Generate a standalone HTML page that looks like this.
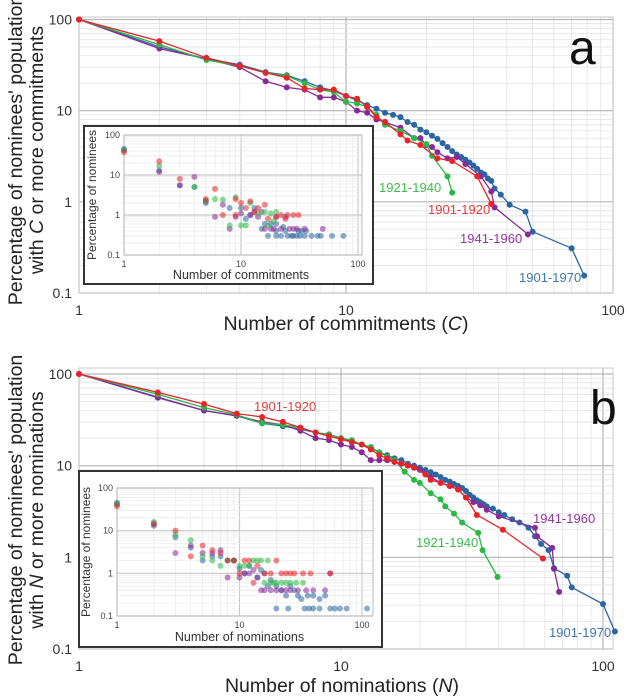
<!DOCTYPE html>
<html><head><meta charset="utf-8"><style>
html,body{margin:0;padding:0;background:#fff;}
svg{display:block;font-family:"Liberation Sans",sans-serif;}
</style></head><body>
<svg id="fig" width="627" height="698" viewBox="0 0 627 698" xmlns="http://www.w3.org/2000/svg"></svg>
<script>
// ---- Panel a data (commitments) ----
const aBlueX=[1,2,3,4,5,6,7,8,9,10,11,12,13,14,15,16,17,18,19,20,21,22,23,24,25,26,27,28,29,30,31,32,33,34,35,36,38,41,47,50,70,78];
const aBlueY=[100,50,37,32,26.5,24.5,21,18,16.5,14.5,13,11.5,10.5,9.5,9,8.5,7.5,7,6.2,5.8,5.3,4.9,4.4,4.0,3.6,3.3,3.1,2.9,2.7,2.5,2.3,2.1,2.0,1.8,1.7,1.4,1.2,0.93,0.78,0.47,0.31,0.155];
const aRedX=[1,2,3,4,5,6,7,8,9,10,11,12,13,14,16,17,19,22,25,31,35];
const aRedY=[100,58,38,31,26,23,17.5,17,17,14.5,13.5,11,8.5,7.5,5.5,4.7,4.2,3.0,2.8,1.9,0.95];
const aGreenX=[1,2,3,4,5,6,7,8,9,10,11,12,13,14,16,18,20,21,24,25];
const aGreenY=[100,53,36,31,26,24,20,17,16,12.5,12,11,9,7,6,5,4.3,3.2,1.9,1.26];
const aPurpleX=[1,2,3,4,5,6,7,8,9,10,11,12,13,14,16,18,19,20,21,22,24,26,28,32,35,36,48];
const aPurpleY=[100,48,37,30,21,18,17,14,14,12.5,10,9.5,8,7.5,6.5,5,5,4.2,4,3.5,3,3.1,2.6,1.9,1.3,0.87,0.44];
// ---- Panel b data (nominations) ----
const bBlueX=[1,2,3,4,5,6,7,8,9,10,11,12,13,14,15,16,17,18,19,20,21,22,23,24,25,26,27,28,29,30,31,32,33,34,35,36,38,40,42,45,48,52,55,58,62,65,73,76,100,111];
const bBlueY=[100,56,40,35,29,27,25,23,21,19.5,18.5,17,15.5,14,13,12,11.5,10.5,10,9.5,9,8.5,8,7.5,7,6.7,6.3,6,5.7,5.3,4.8,4.5,4.2,4,3.8,3.6,3.4,3.1,2.9,2.6,2.4,2.1,1.7,1.4,1.2,0.76,0.63,0.47,0.31,0.155];
const bRedX=[1,2,3,4,5,6,7,8,9,10,11,12,13,14,15,16,17,18,19,21,22,24,26,28,30,33,41.5,59];
const bRedY=[100,63,47,37,34,30,26,23,21,19.5,18,17,15,13,12,11,10.5,10,9.5,8,7,6.5,6,5.5,4.5,2.9,2.0,0.97];
const bGreenX=[1,2,3,4,5,6,7,8,9,10,11,12,13,14,15,16,17.5,19,20,22,24,25,27,29,33.4,34.7,39.6];
const bGreenY=[100,60,43,36,29,28,26,23,22,20,19,17,16,14,12.5,11.5,8.6,7,6.5,5,4.3,3.6,3,2.4,1.85,1.2,0.61];
const bPurpleX=[1,2,3,4,5,6,7,8,9,10,11,12,13,14,15,16,17,18,20,22,24,26,28,30,32,34,36,40,55,56,64,65,68];
const bPurpleY=[100,55,40,35,30,28,24,20,19,17,16,14,11.5,11.5,11.5,11,10.5,10,9,7.5,6.5,6,5.5,4.5,4,3.7,3.3,2.8,2.1,1.7,1.27,0.75,0.42];
// ---- Inset a scatter ----
const iaBlue=[[1,45],[2,13],[3,5.5],[4,5],[5,2],[8,1.5],[10,1.5],[11,0.8],[12,1],[13,1.5],[15,0.45],[16,0.6],[18,0.6],[20,0.6],[17,0.3],[20,0.3],[22,0.3],[23,0.5],[25,0.3],[27,0.3],[28,0.3],[30,0.3],[32,0.3],[33,0.4],[35,0.3],[40,0.3],[45,0.3],[48,0.3],[60,0.3],[75,0.3],[20,0.4],[24,0.4],[31,0.4],[36,0.4]];
const iaRed=[[1,37],[2,22],[3,8],[5,2.5],[6,4.5],[7,1],[9,1],[10,2],[11,1.5],[12,2.2],[14,1.5],[16,1.8],[17,0.8],[20,0.9],[22,1],[24,0.8],[25,1],[28,1],[31,1],[13,1.2],[9,2.5]];
const iaGreen=[[1,42],[2,17],[4,5],[5,2.3],[6,2.5],[7,2.4],[8,0.55],[9,2.8],[10,0.55],[12,2.0],[14,1.1],[16,1.2],[17,0.55],[18,1.1],[19,0.7],[20,1.2],[11,0.55]];
const iaPurple=[[1,42],[2,12],[3,5.5],[4,9],[5,2.2],[6,0.9],[7,1.8],[8,0.45],[9,0.9],[10,1.1],[12,1],[13,1.2],[14,0.9],[16,0.45],[18,0.45],[19,0.45],[22,0.45],[24,0.9],[28,0.45],[30,0.45],[35,0.45],[50,0.45],[15,1.2],[20,0.9],[26,0.45]];
// ---- Inset b scatter ----
const ibBlue=[[1,45],[2,13],[3,7],[4,4],[5,2],[6,2.5],[7,2.5],[8,2],[9,2],[10,1.3],[11,1],[12,1.5],[14,0.8],[15,1.2],[16,1],[17,0.5],[18,0.7],[20,0.5],[22,0.4],[24,0.3],[26,0.5],[28,0.4],[30,0.3],[32,0.25],[36,0.3],[40,0.3],[45,0.25],[20,0.15],[25,0.15],[34,0.15],[37,0.15],[40,0.15],[45,0.15],[55,0.15],[60,0.15],[66,0.15],[75,0.15],[110,0.15],[50,0.3]];
const ibRed=[[1,37],[2,14],[3,10],[4,2.5],[5,4.5],[6,3.5],[7,3],[8,2],[9,2],[10,1],[11,2],[12,2],[14,1.5],[16,1],[18,1],[20,2],[22,1],[24,1],[26,1],[28,1],[33,1],[38,1],[55,1],[13,0.6]];
const ibGreen=[[1,42],[2,16],[3,8],[4,6],[5,2.5],[6,2],[7,1.5],[8,2],[9,2],[10,1.5],[11,1.5],[12,1.5],[13,2],[14,2],[15,2],[16,0.6],[17,2],[18,0.6],[19,0.6],[20,0.6],[22,0.6],[24,0.6],[26,0.6],[29,0.6],[33,0.6]];
const ibPurple=[[1,42],[2,15],[3,3],[4,4.5],[5,3],[6,3],[7,3.5],[8,0.8],[9,2],[10,0.8],[11,1],[12,1],[13,1.2],[14,0.8],[16,0.4],[18,0.4],[20,0.4],[22,0.4],[24,0.4],[26,0.4],[30,0.4],[35,0.4],[40,0.4],[50,0.4],[55,1],[15,0.4]];
const yTicks=["100","10","1","0.1"];
const xTicks=["1","10","100"];

const NS="http://www.w3.org/2000/svg";
const svg=document.getElementById('fig');
const C={blue:"#2b66a0",red:"#e8242a",green:"#2cb845",purple:"#8a2a98"};
const LC={blue:"#3f77ab",red:"#e83a3a",green:"#3dbb4f",purple:"#93359f"};
function mk(tag,attrs,parent){const e=document.createElementNS(NS,tag);for(const k in attrs)e.setAttribute(k,attrs[k]);(parent||svg).appendChild(e);return e;}
function scaleLog(d0,d1,p0,p1){return v=>p0+(Math.log10(v)-Math.log10(d0))/(Math.log10(d1)-Math.log10(d0))*(p1-p0);}

function grid(g,sx,sy,xmin,xmax,x0,x1,y0,y1,major,minor,xEnd){
  for(let dec=1;dec<=100;dec*=10){for(let m=1;m<10;m++){const v=dec*m;if(v<xmin||v>xEnd)continue;
    const l=mk('line',{x1:sx(v),x2:sx(v),y1:y0,y2:y1,stroke:m===1?major:minor,'stroke-width':m===1?1.2:0.8},g);
    }}
  for(let dec=0.1;dec<=100;dec*=10){for(let m=1;m<10;m++){const v=dec*m;if(v>100.01)continue;
    const l=mk('line',{x1:x0,x2:x1,y1:sy(v),y2:sy(v),stroke:m===1?major:minor,'stroke-width':m===1?1.2:0.8},g);
    }}
}
function series(g,xs,ys,sx,sy,col,name){
  const pts=xs.map((x,i)=>sx(x).toFixed(1)+','+sy(ys[i]).toFixed(1)).join(' ');
  const pl=mk('polyline',{points:pts,fill:'none',stroke:col,'stroke-width':1.3},g);
  
  xs.forEach((x,i)=>{const c=mk('circle',{cx:sx(x),cy:sy(ys[i]),r:3,fill:col},g);
    });
}
function scatter(g,pts,sx,sy,col,name){
  pts.forEach(p=>{const c=mk('circle',{cx:sx(p[0]),cy:sy(p[1]),r:3,fill:col,'fill-opacity':0.55},g);
    });
}
function text(g,x,y,s,attrs,name){const t=mk('text',Object.assign({x:x,y:y},attrs),g);t.textContent=s;
  return t;}

function panel(o){
  const g=mk('g',{});
  const sx=scaleLog(1,100,o.x1,o.x100), sy=scaleLog(0.1,100,o.y01,o.y100);
  const top=o.top, right=o.right;
  grid(g,sx,sy,1,100,o.x1,right,top,o.y01,'#b5b5b5','#e2e2e2',o.xEnd);
  const b=mk('rect',{x:o.x1,y:top,width:right-o.x1,height:o.y01-top,fill:'none',stroke:'#c8c8c8','stroke-width':1},g);
  
  [100,10,1,0.1].forEach((v,i)=>text(g,o.x1-7,sy(v)+5,yTicks[i],{'font-size':14,'text-anchor':'end',fill:'#333'},'y-tick-label'));
  [1,10,100].forEach((v,i)=>text(g,sx(v),o.y01+22,xTicks[i],{'font-size':14,'text-anchor':'middle',fill:'#333'},'x-tick-label'));
  o.series.forEach(s=>series(g,s[0],s[1],sx,sy,C[s[2]],s[3]));
  o.labels.forEach(l=>text(g,l[0],l[1],l[2],{'font-size':13,fill:LC[l[3]]},'series-label'));
  text(g,o.letterX,o.letterY,o.letter,{'font-size':48,fill:'#111'},'panel-letter');
  const yt=mk('text',{transform:`translate(22,${o.ycenter}) rotate(-90)`,'text-anchor':'middle','font-size':19.5,fill:'#222'},g);
  
  const ts1=mk('tspan',{x:0,dy:0},yt);ts1.textContent="Percentage of nominees' population";
  const ts2=mk('tspan',{x:0,dy:21},yt);ts2.innerHTML=o.ytitle2;
  const xt=mk('text',{x:o.xtX,y:o.xtY,'text-anchor':'middle','font-size':19.5,fill:'#222'},g);
  
  xt.innerHTML=o.xtitle;
  const I=o.inset;
  const ig=mk('g',{},g);
  const ib=mk('rect',{x:I.x,y:I.y,width:I.w,height:I.h,fill:'#fff',stroke:'#333','stroke-width':2},ig);
  
  const isx=scaleLog(1,100,I.x1,I.x100), isy=scaleLog(0.1,100,I.y01,I.y100);
  grid(ig,isx,isy,1,100,I.x1,I.right,I.y100,I.y01,'#c8c8c8','#ececec',I.xEnd);
  const ibr=mk('rect',{x:I.x1,y:I.y100,width:I.right-I.x1,height:I.y01-I.y100,fill:'none',stroke:'#bbb','stroke-width':1},ig);
  
  [100,10,1,0.1].forEach((v,i)=>text(ig,I.x1-4,isy(v)+3,yTicks[i],{'font-size':9,'text-anchor':'end',fill:'#444'},'inset-y-tick-label'));
  [1,10,100].forEach((v,i)=>text(ig,isx(v),I.y01+12,xTicks[i],{'font-size':9,'text-anchor':'middle',fill:'#444'},'inset-x-tick-label'));
  I.pts.forEach(s=>scatter(ig,s[0],isx,isy,C[s[1]],s[2]));
  text(ig,(I.x1+I.x100)/2,I.xlY,I.xl,{'font-size':12.5,'text-anchor':'middle',fill:'#333'},'inset-x-axis-title');
  text(ig,0,0,'Percentage of nominees',{'font-size':12,'text-anchor':'middle',fill:'#333',transform:`translate(${I.ylX},${(I.y100+I.y01)/2}) rotate(-90)`},'inset-y-axis-title');
}

panel({name:'panel-a',x1:79,x100:613,y100:19.5,y01:293,top:17,right:613,xEnd:100,letter:'a',letterX:569,letterY:64,
  ycenter:150,ytitle2:'with <tspan font-style="italic">C</tspan> or more commitments',
  xtitle:'Number of commitments (<tspan font-style="italic">C</tspan>)',xtX:346,xtY:330,
  series:[[aBlueX,aBlueY,'blue','series-1901-1970'],[aPurpleX,aPurpleY,'purple','series-1941-1960'],[aGreenX,aGreenY,'green','series-1921-1940'],[aRedX,aRedY,'red','series-1901-1920']],
  labels:[[379,192,'1921-1940','green'],[428,214,'1901-1920','red'],[460,243,'1941-1960','purple'],[519,282,'1901-1970','blue']],
  inset:{x:84,y:126,w:289,h:158,x1:124,x100:358,right:362,xEnd:100,y100:135,y01:255,xl:'Number of commitments',xlY:279,ylX:96,
    pts:[[iaBlue,'blue','inset-1901-1970'],[iaPurple,'purple','inset-1941-1960'],[iaGreen,'green','inset-1921-1940'],[iaRed,'red','inset-1901-1920']]}
});
panel({name:'panel-b',x1:79,x100:603,y100:374,y01:649,top:368,right:613,xEnd:120,letter:'b',letterX:590,letterY:424,
  ycenter:510,ytitle2:'with <tspan font-style="italic">N</tspan> or more nominations',
  xtitle:'Number of nominations (<tspan font-style="italic">N</tspan>)',xtX:342,xtY:692,
  series:[[bBlueX,bBlueY,'blue','series-1901-1970'],[bPurpleX,bPurpleY,'purple','series-1941-1960'],[bGreenX,bGreenY,'green','series-1921-1940'],[bRedX,bRedY,'red','series-1901-1920']],
  labels:[[254,411,'1901-1920','red'],[533,523,'1941-1960','purple'],[416,547,'1921-1940','green'],[549,637,'1901-1970','blue']],
  inset:{x:79,y:471,w:303,h:176,x1:117,x100:362,right:373,xEnd:120,y100:488,y01:616,xl:'Number of nominations',xlY:641,ylX:90,
    pts:[[ibBlue,'blue','inset-1901-1970'],[ibPurple,'purple','inset-1941-1960'],[ibGreen,'green','inset-1921-1940'],[ibRed,'red','inset-1901-1920']]}
});
</script>
</body></html>
